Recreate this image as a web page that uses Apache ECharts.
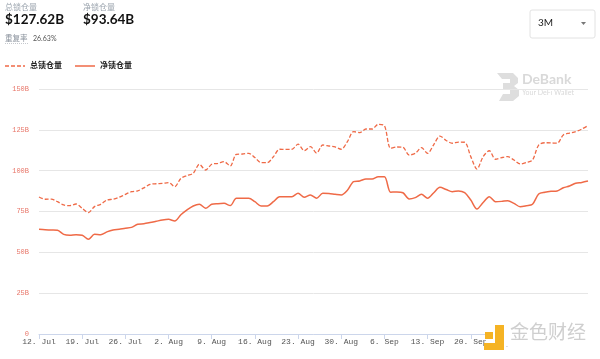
<!DOCTYPE html>
<html><head><meta charset="utf-8">
<script src="https://cdn.jsdelivr.net/npm/echarts@6/dist/echarts.min.js"></script>
<style>html,body{margin:0;padding:0;background:#fff}#c{width:600px;height:359px}</style>
</head><body><div id="c"></div>
<script>
// Start date of the daily series (12 Jul) and day count
var startDate = [2021, 6, 12];
var monthNames = ['Jan','Feb','Mar','Apr','May','Jun','Jul','Aug','Sep','Oct','Nov','Dec'];
var yTickLabels = ['0','25B','50B','75B','100B','125B','150B'];
var seriesNames = ['总锁仓量','净锁仓量'];
// Total locked (B USD), daily
var totalLocked = [83.9,82.5,82.6,81.0,79.0,78.6,79.6,77.0,74.3,78.0,
79.4,82.0,82.5,83.7,85.5,87.1,87.6,89.5,91.6,92.0,
92.2,92.7,90.2,95.3,97.0,98.4,103.9,100.4,103.9,104.5,
105.5,102.9,110.0,110.2,110.6,108.0,104.9,104.9,108.5,113.1,
113.0,113.1,116.2,112.2,114.7,110.8,115.7,115.1,114.5,113.1,
117.8,123.9,123.3,125.5,125.5,128.4,127.5,113.7,114.5,114.3,
109.6,110.6,114.1,110.6,116.0,121.2,118.5,116.8,117.5,117.4,
108.6,101.0,108.6,112.2,107.0,108.0,108.6,106.5,104.1,105.0,
106.5,115.7,117.1,117.0,116.8,121.9,123.0,123.9,125.5,127.62];
// Net locked (B USD), daily
var netLocked = [64.1,63.8,63.7,63.5,61.0,60.5,60.8,60.5,58.0,61.0,
60.8,62.5,63.7,64.2,64.8,65.3,67.2,67.5,68.2,69.0,
69.8,70.2,69.2,73.0,76.0,78.4,79.4,77.0,79.4,79.8,
80.0,78.6,83.1,83.1,83.1,81.0,78.4,78.4,81.0,84.1,
84.1,84.1,86.1,83.7,85.1,83.1,86.1,86.0,85.5,85.1,
88.0,93.3,93.7,94.9,94.9,96.3,96.3,86.8,87.0,86.5,
82.7,83.5,85.5,83.1,86.5,89.8,88.5,87.1,87.6,86.5,
82.0,76.5,80.5,84.1,81.0,81.2,81.6,80.0,77.9,78.5,
79.4,85.7,86.8,87.4,87.6,89.5,90.6,92.3,92.8,93.64];

var categories = [];
for (var i = 0; i < totalLocked.length; i++) {
  var d = new Date(startDate[0], startDate[1], startDate[2] + i);
  categories.push(d.getDate() + '. ' + monthNames[d.getMonth()]);
}

var chart = echarts.init(document.getElementById('c'), null, {renderer:'canvas'});
var lineColor = '#ef6a47';
chart.setOption({
  animation: false,
  grid: {left: 39, right: 12, top: 89, bottom: 25},
  legend: {show: false},
  xAxis: {
    type: 'category', data: categories, boundaryGap: false,
    axisLine: {lineStyle: {color: '#ccd6eb'}},
    axisTick: {interval: 6, length: 5, lineStyle: {color: '#ccd6eb'}},
    axisLabel: {interval: 6, fontSize: 8, color: '#555', fontFamily: 'Liberation Mono', margin: 4, align: 'center'}
  },
  yAxis: {
    type: 'value', min: 0, max: 150, interval: 25,
    axisLine: {show: false}, axisTick: {show: false},
    splitLine: {lineStyle: {color: '#e6e6e6'}},
    axisLabel: {fontSize: 7, color: '#e8776a', margin: 10, fontFamily: 'Liberation Mono',
      formatter: function (v) { return yTickLabels[Math.round(v / 25)]; }}
  },
  series: [
    {name: seriesNames[0], type: 'line', data: totalLocked, smooth: 0.3, symbol: 'none',
     lineStyle: {color: lineColor, width: 1.3, type: [4,2]}, itemStyle:{color: lineColor}},
    {name: seriesNames[1], type: 'line', data: netLocked, smooth: 0.3, symbol: 'none',
     lineStyle: {color: lineColor, width: 1.5}, itemStyle:{color: lineColor}}
  ],
  graphic: [
    {type:'text', left: 5, top: 3, style:{text:'总锁仓量', fontSize: 8, fill:'#9aa3ad', fontFamily:'Noto Sans CJK SC'}},
    {type:'text', left: 5, top: 13, style:{text:'$127.62B', fontSize: 13.5, fontWeight:'bold', fill:'#111', fontFamily:'Lato'}},
    {type:'text', left: 83, top: 3, style:{text:'净锁仓量', fontSize: 8, fill:'#9aa3ad', fontFamily:'Noto Sans CJK SC'}},
    {type:'text', left: 83, top: 13, style:{text:'$93.64B', fontSize: 13.5, fontWeight:'bold', fill:'#111', fontFamily:'Lato'}},
    {type:'text', left: 5, top: 34, style:{text:'重复率', fontSize: 7.5, fill:'#8a929c', fontFamily:'Noto Sans CJK SC'}},
    {type:'line', shape:{x1:5,y1:43.5,x2:28,y2:43.5}, style:{stroke:'#a0a6ad', lineWidth:0.6, lineDash:[1,1]}},
    {type:'text', left: 33, top: 35, style:{text:'26.63%', fontSize: 7, fill:'#555', fontFamily:'Lato'}},
    // legend
    {type:'line', shape:{x1:5,y1:66,x2:25,y2:66}, style:{stroke:lineColor, lineWidth:1.3, lineDash:[4,2]}},
    {type:'text', left: 30, top: 61, style:{text:seriesNames[0], fontSize: 8, fill:'#222', fontWeight:'bold', fontFamily:'Noto Sans CJK SC'}},
    {type:'line', shape:{x1:75,y1:66,x2:95,y2:66}, style:{stroke:lineColor, lineWidth:1.5}},
    {type:'text', left: 100, top: 61, style:{text:seriesNames[1], fontSize: 8, fill:'#222', fontWeight:'bold', fontFamily:'Noto Sans CJK SC'}},
    // range dropdown
    {type:'rect', shape:{x:530, y:10, width:65, height:28, r:2}, style:{fill:'#fff', stroke:'#e2e2e2', lineWidth:1}},
    {type:'text', left: 538, top: 18, style:{text:'3M', fontSize: 10, fill:'#222', fontFamily:'Lato'}},
    {type:'polygon', shape:{points:[[581,22],[586,22],[583.5,25]]}, style:{fill:'#777'}},
    // DeBank watermark
    {type:'polygon', shape:{points:[[497,73],[513,73],[518,78],[518,83],[514,86],[519,90],[519,96],[513,101],[499,101],[503,94],[510,94],[510,89],[503,89],[503,83],[510,83],[510,79],[502,79]]}, style:{fill:'#dedede'}},
    {type:'text', left: 522, top: 72, style:{text:'DeBank', fontSize: 14, fontWeight:'bold', fill:'#d9d9d9', fontFamily:'Lato'}},
    {type:'text', left: 522, top: 89, style:{text:'Your DeFi Wallet', fontSize: 7, fill:'#d9d9d9', fontFamily:'Lato'}},
    // 金色财经 watermark (overlay)
    {type:'group', z: 200, children: [
      {type:'rect', z: 200, shape:{x:486, y:322, width:114, height:37}, style:{fill:'#fff'}},
      {type:'rect', z: 201, shape:{x:485, y:332, width:8, height:7}, style:{fill:'#f5b324'}},
      {type:'polygon', z: 201, shape:{points:[[495,325],[504,325],[504,350],[484,350],[484,343],[495,343]]}, style:{fill:'#f5b324'}},
      {type:'text', z: 201, x: 506, y: 341, style:{text:'.', fontSize: 7, fill:'#999', fontFamily:'Noto Sans CJK SC'}},
      {type:'text', z: 201, x: 510, y: 322, style:{text:'金色财经', fontSize: 19, fill:'#cfcfcf', fontFamily:'Noto Sans CJK SC'}}
    ]}
  ]
});
</script></body></html>
